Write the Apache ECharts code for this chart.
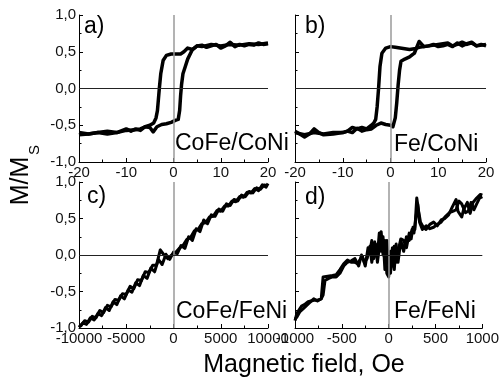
<!DOCTYPE html>
<html>
<head>
<meta charset="utf-8">
<script src="https://cdn.jsdelivr.net/npm/echarts@6/dist/echarts.min.js"></script>
<style>
html,body{margin:0;padding:0;background:#fff;}
#chart{width:502px;height:383px;}
</style>
</head>
<body>
<div id="chart"></div>
<script>
// ---- Panel a: CoFe/CoNi (field in Oe, -20..20) ----
const aDownX = [20, 18, 16, 14, 12, 10, 8, 6, 5, 4, 3, 2.2, 1.5, 0.5, -0.5, -1.5, -2.2, -2.7, -3, -3.2, -3.4, -3.7, -4.2, -5, -6, -7, -8, -10, -12, -14, -16, -18, -20];
const aDownY = [0.62, 0.6, 0.61, 0.59, 0.6, 0.58, 0.6, 0.57, 0.58, 0.53, 0.55, 0.5, 0.47, 0.47, 0.47, 0.45, 0.38, 0.2, 0.0, -0.15, -0.3, -0.4, -0.47, -0.5, -0.52, -0.55, -0.56, -0.57, -0.6, -0.62, -0.6, -0.62, -0.63];
const aUpX = [-20, -18, -16, -14, -12, -10, -9, -8, -7, -6, -5, -4.3, -3.5, -2.5, -1.5, -0.5, 0.5, 1, 1.3, 1.5, 1.7, 2, 2.5, 3, 4, 5, 6, 7, 8, 9, 10, 11, 12, 13, 14, 15, 16, 17, 18, 19, 20];
const aUpY = [-0.6, -0.62, -0.6, -0.58, -0.6, -0.55, -0.58, -0.55, -0.57, -0.52, -0.53, -0.59, -0.52, -0.49, -0.48, -0.46, -0.43, -0.42, -0.3, -0.1, 0.05, 0.2, 0.3, 0.4, 0.53, 0.58, 0.59, 0.56, 0.58, 0.6, 0.55, 0.58, 0.63, 0.57, 0.6, 0.58, 0.6, 0.59, 0.62, 0.6, 0.61];

// ---- Panel b: Fe/CoNi ----
const bDownX = [20, 18, 17, 16, 15, 14, 13, 12, 11, 10, 9, 8, 7, 6, 5, 4, 3, 2, 1, 0, -1, -1.8, -2.2, -2.5, -2.8, -3.1, -3.5, -4, -5, -6, -7, -8, -9, -10, -12, -14, -16, -18, -20];
const bDownY = [0.6, 0.58, 0.63, 0.61, 0.58, 0.62, 0.57, 0.6, 0.58, 0.57, 0.6, 0.58, 0.57, 0.56, 0.54, 0.53, 0.54, 0.55, 0.56, 0.57, 0.55, 0.48, 0.3, 0.0, -0.25, -0.42, -0.47, -0.5, -0.55, -0.53, -0.55, -0.53, -0.58, -0.6, -0.6, -0.62, -0.6, -0.63, -0.6];
const bUpX = [-20, -19, -18, -17, -16, -15, -14, -12, -10, -9, -8, -7, -6, -5, -4, -3, -2, -1, 0, 0.5, 1, 1.3, 1.6, 1.9, 2.2, 3, 4, 5, 6, 7, 8, 10, 12, 13, 14, 15, 16, 17, 18, 19, 20];
const bUpY = [-0.58, -0.62, -0.66, -0.62, -0.55, -0.6, -0.63, -0.62, -0.6, -0.58, -0.6, -0.54, -0.58, -0.56, -0.55, -0.5, -0.47, -0.49, -0.5, -0.52, -0.4, -0.2, 0.05, 0.25, 0.37, 0.4, 0.43, 0.48, 0.64, 0.57, 0.58, 0.6, 0.62, 0.58, 0.6, 0.63, 0.6, 0.62, 0.58, 0.6, 0.58];

// ---- Panel c: CoFe/FeNi (-10000..10000 Oe) ----
const cUpX = [-10000, -9600, -9200, -8800, -8400, -8000, -7600, -7200, -6800, -6400, -6000, -5600, -5200, -4800, -4400, -4000, -3600, -3200, -2800, -2400, -2000, -1600, -1200, -800, -400, 0, 400, 800, 1200, 1600, 2000, 2400, 2800, 3200, 3600, 4000, 4400, 4800, 5200, 5600, 6000, 6400, 6800, 7200, 7600, 8000, 8400, 8800, 9200, 9600, 10000];
const cUpY = [-0.99, -0.93, -0.95, -0.86, -0.89, -0.80, -0.83, -0.72, -0.76, -0.64, -0.68, -0.56, -0.60, -0.48, -0.51, -0.38, -0.42, -0.28, -0.32, -0.18, -0.23, -0.06, -0.13, 0.01, -0.06, 0.04, 0.02, 0.13, 0.09, 0.25, 0.20, 0.36, 0.32, 0.48, 0.43, 0.55, 0.53, 0.63, 0.60, 0.70, 0.68, 0.76, 0.74, 0.82, 0.80, 0.87, 0.85, 0.92, 0.90, 0.96, 0.95];
const cDownX = [10000, 9800, 9400, 9000, 8600, 8200, 7800, 7400, 7000, 6600, 6200, 5800, 5400, 5000, 4600, 4200, 3800, 3400, 3000, 2600, 2200, 1800, 1400, 1000, 600, 200, -200, -600, -1000, -1400, -1800, -2200, -2600, -3000, -3400, -3800, -4200, -4600, -5000, -5400, -5800, -6200, -6600, -7000, -7400, -7800, -8200, -8600, -9000, -9400, -9800, -10000];
const cDownY = [0.98, 0.93, 0.96, 0.88, 0.91, 0.85, 0.86, 0.79, 0.80, 0.73, 0.74, 0.67, 0.67, 0.60, 0.61, 0.53, 0.52, 0.44, 0.43, 0.35, 0.33, 0.24, 0.21, 0.13, 0.09, 0.03, 0.0, -0.05, 0.0, 0.07, -0.14, -0.14, -0.24, -0.23, -0.35, -0.34, -0.46, -0.43, -0.54, -0.53, -0.62, -0.61, -0.71, -0.69, -0.79, -0.76, -0.86, -0.84, -0.92, -0.90, -0.97, -0.96];

// ---- Panel d: Fe/FeNi (-1000..1000 Oe) ----
const dUpX = [-1000, -980, -960, -930, -900, -860, -800, -760, -720, -700, -650, -600, -560, -520, -480, -440, -400, -360, -330, -300, -280, -250, -220, -200, -180, -160, -140, -120, -100, -80, -60, -40, -20, 0, 20, 40, 60, 80, 100, 130, 160, 190, 220, 240, 260, 280, 300, 320, 340, 370, 400, 440, 480, 520, 560, 600, 640, 680, 720, 740, 780, 800, 840, 870, 900, 940, 980, 1000];
const dUpY = [-0.9, -0.8, -0.82, -0.7, -0.68, -0.64, -0.62, -0.62, -0.6, -0.3, -0.29, -0.28, -0.27, -0.2, -0.12, -0.07, -0.1, -0.1, -0.12, -0.05, -0.02, -0.15, 0.1, 0.05, 0.2, -0.05, 0.15, -0.1, 0.1, 0.32, 0.0, 0.2, -0.25, -0.3, 0.05, -0.15, 0.12, -0.1, 0.05, 0.22, 0.2, 0.1, 0.3, 0.22, 0.38, 0.35, 0.78, 0.6, 0.45, 0.38, 0.35, 0.42, 0.45, 0.4, 0.48, 0.5, 0.55, 0.66, 0.76, 0.6, 0.52, 0.62, 0.72, 0.57, 0.72, 0.78, 0.83, 0.82];
const dDownX = [1000, 970, 940, 910, 880, 850, 820, 780, 750, 720, 690, 650, 600, 560, 520, 480, 440, 400, 360, 330, 310, 290, 270, 250, 220, 190, 160, 130, 100, 80, 60, 40, 20, 0, -20, -40, -60, -80, -100, -120, -150, -180, -200, -230, -260, -290, -320, -360, -400, -440, -480, -520, -560, -600, -640, -680, -700, -720, -760, -800, -850, -900, -950, -980, -1000];
const dDownY = [0.8, 0.78, 0.7, 0.62, 0.72, 0.6, 0.58, 0.7, 0.74, 0.62, 0.6, 0.58, 0.52, 0.45, 0.42, 0.38, 0.36, 0.4, 0.35, 0.45, 0.7, 0.5, 0.3, 0.35, 0.2, 0.25, 0.05, 0.2, -0.1, 0.15, -0.2, 0.1, -0.25, -0.15, 0.2, -0.2, 0.25, 0.05, 0.3, 0.0, 0.18, -0.1, 0.12, -0.05, -0.1, 0.0, -0.15, -0.05, -0.08, -0.1, -0.15, -0.25, -0.3, -0.3, -0.32, -0.35, -0.55, -0.6, -0.63, -0.6, -0.66, -0.72, -0.78, -0.85, -0.88];

// ---- Axis settings / text ----
const xRanges = [[-20, 20, 10], [-20, 20, 10], [-10000, 10000, 5000], [-1000, 1000, 500]];
const yRange = [-1, 1, 0.5];
const panelTags = ['a)', 'b)', 'c)', 'd)'];
const sampleNames = ['CoFe/CoNi', 'Fe/CoNi', 'CoFe/FeNi', 'Fe/FeNi'];
const yTitle = 'M/M';
const yTitleSub = 'S';
const xTitle = 'Magnetic field, Oe';

const zip = (xs, ys) => xs.map((x, i) => [x, ys[i]]);
const branches = [
  [zip(aDownX, aDownY), zip(aUpX, aUpY)],
  [zip(bDownX, bDownY), zip(bUpX, bUpY)],
  [zip(cUpX, cUpY), zip(cDownX, cDownY)],
  [zip(dUpX, dUpY), zip(dDownX, dDownY)]
];

const FONT = '"Liberation Sans", Arial, sans-serif';
const grids = [
  {left: 79, top: 15, width: 189, height: 147},
  {left: 295, top: 15, width: 191, height: 147},
  {left: 79, top: 182, width: 189, height: 146},
  {left: 295, top: 182, width: 191, height: 146}
];

const fmtY = v => v.toFixed(1).replace('.', ',');
const fmtX = v => String(Math.round(v));

const xAxes = xRanges.map((r, i) => ({
  type: 'value', gridIndex: i, min: r[0], max: r[1], interval: r[2],
  axisLine: {show: true, onZero: false, lineStyle: {color: '#000', width: 1}},
  axisTick: {show: true, inside: true, length: 4, lineStyle: {color: '#000', width: 1}},
  minorTick: {show: true, splitNumber: 2, length: 2.5, lineStyle: {color: '#000', width: 1}},
  splitLine: {show: false},
  axisLabel: {fontSize: 15, color: '#111', margin: 3, fontFamily: FONT, formatter: fmtX, showMinLabel: true, showMaxLabel: true}
}));
const yAxes = [0, 1, 2, 3].map(i => ({
  type: 'value', gridIndex: i, min: yRange[0], max: yRange[1], interval: yRange[2],
  axisLine: {show: true, onZero: false, lineStyle: {color: '#000', width: 1}},
  axisTick: {show: true, inside: true, length: 4, lineStyle: {color: '#000', width: 1}},
  minorTick: {show: true, splitNumber: 2, length: 2.5, lineStyle: {color: '#000', width: 1}},
  splitLine: {show: false},
  axisLabel: {show: i % 2 === 0, fontSize: 15, color: '#111', margin: 3, fontFamily: FONT, formatter: fmtY, showMinLabel: true, showMaxLabel: true}
}));

const series = [];
for (let i = 0; i < 4; i++) {
  series.push({
    type: 'line', xAxisIndex: i, yAxisIndex: i, data: [], silent: true, z: 1,
    markLine: {
      silent: true, symbol: ['none', 'none'], animation: false, label: {show: false},
      data: [
        {xAxis: 0, lineStyle: {color: '#9a9a9a', width: 1.5, type: 'solid'}},
        {yAxis: 0, lineStyle: {color: '#222', width: 1, type: 'solid'}}
      ]
    }
  });
  branches[i].forEach(b => {
    series.push({
      type: 'line', xAxisIndex: i, yAxisIndex: i, data: b, z: 3,
      symbol: 'none', showSymbol: false, silent: true,
      lineStyle: {color: '#000', width: i < 2 ? 3.5 : 3, join: 'round'}
    });
  });
}

const tagPos = [[84, 27], [305, 27], [87, 197], [305, 198]];
const namePos = [[175, 144], [394, 145], [176, 312], [394, 312]];
const graphic = [];
for (let i = 0; i < 4; i++) {
  graphic.push({type: 'text', x: tagPos[i][0], y: tagPos[i][1], silent: true,
    style: {text: panelTags[i], font: '23px ' + FONT, fill: '#000', textVerticalAlign: 'middle', verticalAlign: 'middle'}});
  graphic.push({type: 'text', x: namePos[i][0], y: namePos[i][1], silent: true,
    style: {text: sampleNames[i], font: '23px ' + FONT, fill: '#000', textVerticalAlign: 'middle', verticalAlign: 'middle'}});
}
graphic.push({type: 'text', x: 21, y: 181, rotation: Math.PI / 2, silent: true,
  style: {text: yTitle, font: '25px ' + FONT, fill: '#000', align: 'center', verticalAlign: 'middle', textAlign: 'center', textVerticalAlign: 'middle'}});
graphic.push({type: 'text', x: 35, y: 150, rotation: Math.PI / 2, silent: true,
  style: {text: yTitleSub, font: '15px ' + FONT, fill: '#000', align: 'center', verticalAlign: 'middle', textAlign: 'center', textVerticalAlign: 'middle'}});
graphic.push({type: 'text', x: 304, y: 365, silent: true,
  style: {text: xTitle, font: '25px ' + FONT, fill: '#000', align: 'center', verticalAlign: 'middle', textAlign: 'center', textVerticalAlign: 'middle'}});

const chart = echarts.init(document.getElementById('chart'), null, {renderer: 'canvas'});
chart.setOption({
  animation: false,
  backgroundColor: '#fff',
  grid: grids,
  xAxis: xAxes,
  yAxis: yAxes,
  series: series,
  graphic: graphic
});
</script>
</body>
</html>
